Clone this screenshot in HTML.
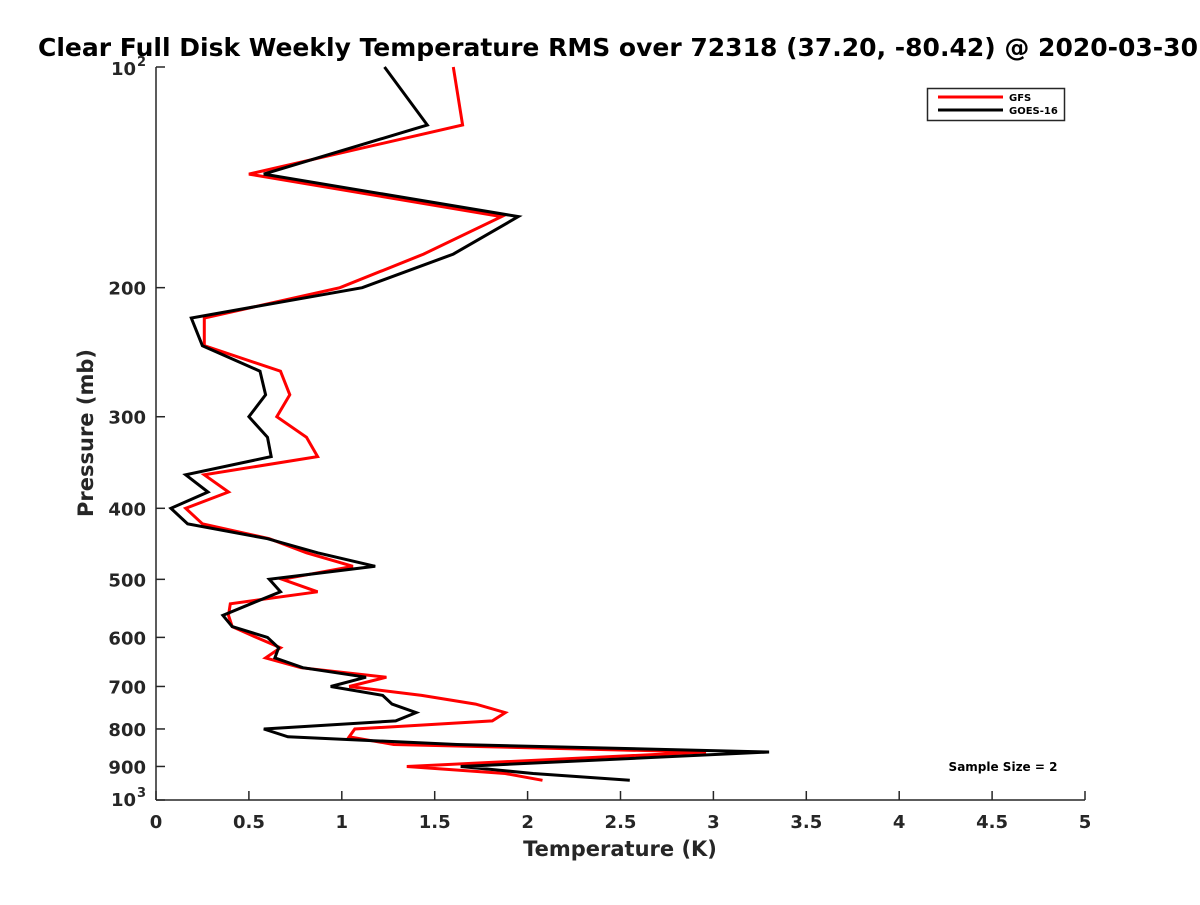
<!DOCTYPE html>
<html><head><meta charset="utf-8"><style>
body{margin:0;background:#fff;width:1200px;height:900px;overflow:hidden}
svg text{font-family:"DejaVu Sans","Liberation Sans",sans-serif;font-weight:bold}
</style></head><body>
<svg id="chart" width="1200" height="900" viewBox="0 0 1200 900" xmlns="http://www.w3.org/2000/svg">
<rect width="1200" height="900" fill="#fff"/>
<text x="38" y="56" font-size="25" fill="#000">Clear Full Disk Weekly Temperature RMS over 72318 (37.20, -80.42) @ 2020-03-30</text>
<g id="axes"></g>
<g id="series"></g>
<g>
<rect x="927.5" y="88.5" width="137" height="32" fill="#fff" stroke="#262626" stroke-width="1.5"/>
<line x1="938" y1="97" x2="1003" y2="97" stroke="#ff0000" stroke-width="3"/>
<text x="1009" y="101" font-size="10" fill="#000">GFS</text>
<line x1="938" y1="110" x2="1003" y2="110" stroke="#000" stroke-width="3"/>
<text x="1009" y="114" font-size="10" fill="#000">GOES-16</text>
</g>
<text x="1003" y="771" font-size="12" text-anchor="middle" fill="#000">Sample Size = 2</text>
<text x="620" y="856" font-size="21" text-anchor="middle" fill="#262626">Temperature (K)</text>
<text transform="translate(93,433) rotate(-90)" font-size="21" text-anchor="middle" fill="#262626">Pressure (mb)</text>
</svg>
<script>
const pressures=[100,120,140,160,180,200,220,240,260,280,300,320,340,360,380,400,420,440,460,480,500,520,540,560,580,600,620,640,660,680,700,720,740,760,780,800,820,840,860,900,920,940];
const gfs=[1.60,1.65,0.50,1.86,1.44,0.99,0.26,0.26,0.67,0.72,0.65,0.81,0.87,0.26,0.39,0.16,0.25,0.61,0.81,1.06,0.68,0.87,0.40,0.39,0.41,0.54,0.67,0.59,0.78,1.24,1.04,1.43,1.72,1.88,1.81,1.07,1.04,1.28,2.96,1.35,1.88,2.08];
const goes=[1.23,1.46,0.58,1.95,1.60,1.11,0.19,0.25,0.56,0.59,0.50,0.60,0.62,0.16,0.28,0.08,0.17,0.60,0.87,1.18,0.61,0.67,0.51,0.36,0.41,0.60,0.66,0.64,0.79,1.13,0.94,1.22,1.27,1.40,1.29,0.58,0.71,1.62,3.30,1.64,2.03,2.55];
const xTicks=[0,0.5,1,1.5,2,2.5,3,3.5,4,4.5,5];
const xTickLabels=["0","0.5","1","1.5","2","2.5","3","3.5","4","4.5","5"];
const yTicks=[100,200,300,400,500,600,700,800,900,1000];
const yTickLabels=["10|2","200","300","400","500","600","700","800","900","10|3"];

const L=156,R=1085,T=67,B=800;
const xs=v=>L+(v-0)/(5-0)*(R-L);
const ys=p=>T+(Math.log10(p)-2)/(3-2)*(B-T);
const NS="http://www.w3.org/2000/svg";
const axes=document.getElementById('axes');
const series=document.getElementById('series');
function mk(tag,attrs,parent){const e=document.createElementNS(NS,tag);for(const k in attrs)e.setAttribute(k,attrs[k]);parent.appendChild(e);return e;}

const xl=mk('line',{x1:L,y1:B,x2:R,y2:B,stroke:'#262626','stroke-width':1.5},axes);


const yl=mk('line',{x1:L,y1:T,x2:L,y2:B,stroke:'#262626','stroke-width':1.5},axes);



xTicks.forEach((v,i)=>{
  const x=xs(v);
  const t=mk('line',{x1:x,y1:B,x2:x,y2:B-9,stroke:'#262626','stroke-width':1.5},axes);
  
  
  const tx=mk('text',{x:x,y:B+28,'font-size':18,'text-anchor':'middle',fill:'#262626'},axes);
  tx.textContent=xTickLabels[i];
  
  
});
yTicks.forEach((p,i)=>{
  const y=ys(p);
  const t=mk('line',{x1:L,y1:y,x2:L+9,y2:y,stroke:'#262626','stroke-width':1.5},axes);
  
  
  const lab=yTickLabels[i];
  if(lab.indexOf('|')>=0){
    const parts=lab.split('|');
    const tx=mk('text',{x:L-20,y:y+(i===0?8:6),'font-size':18,'text-anchor':'end',fill:'#262626'},axes);
    tx.textContent=parts[0];
    
    
    const sp=mk('text',{x:L-19,y:y+(i===0?-1:-3),'font-size':13,'text-anchor':'start',fill:'#262626'},axes);
    sp.textContent=parts[1];
    
    
  } else {
    const tx=mk('text',{x:L-10,y:y+7,'font-size':18,'text-anchor':'end',fill:'#262626'},axes);
    tx.textContent=lab;
    
    
  }
});

function drawLine(vals,color,name){
  const d=vals.map((v,i)=>(i?'L':'M')+xs(v).toFixed(1)+','+ys(pressures[i]).toFixed(1)).join(' ');
  const p=mk('path',{d:d,fill:'none',stroke:color,'stroke-width':3,'stroke-linejoin':'miter'},series);
  
  
}
drawLine(gfs,'#ff0000','gfs-line');
drawLine(goes,'#000','goes16-line');
</script>
</body></html>
